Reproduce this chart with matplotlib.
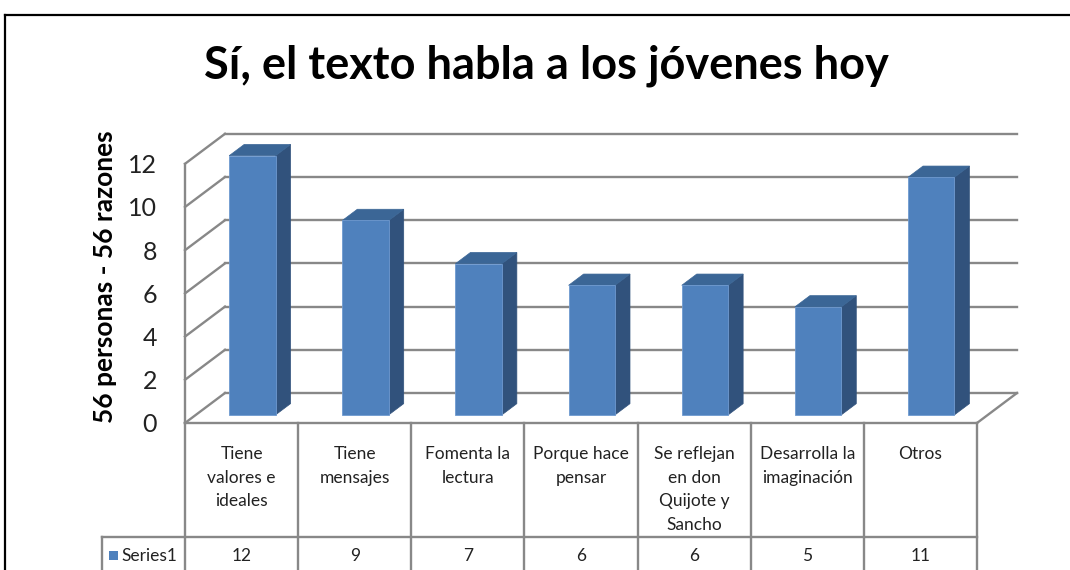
import matplotlib
matplotlib.use("Agg")
import matplotlib.pyplot as plt
from matplotlib.patches import Polygon, Rectangle
from matplotlib.lines import Line2D

# data
categories = ["Tiene\nvalores e\nideales", "Tiene\nmensajes", "Fomenta la\nlectura",
              "Porque hace\npensar", "Se reflejan\nen don\nQuijote y\nSancho",
              "Desarrolla la\nimaginación", "Otros"]
values = [12, 9, 7, 6, 6, 5, 11]
table_values = ["12", "9", "7", "6", "6", "5", "11"]
yticks = [0, 2, 4, 6, 8, 10, 12]
series_name = "Series1"
title = "Sí, el texto habla a los jóvenes hoy"
ylabel = "56 personas - 56 razones"

plt.rcParams['font.family'] = ['Lato', 'DejaVu Sans']

front = "#4F81BD"
side = "#31527C"
top = "#3B6696"
grid = "#888888"

W, H = 1070, 570
fig = plt.figure(figsize=(W / 100, H / 100), dpi=100)

# front plane: x 185..977 px (7 columns), y=0 at 423 px, 21.6 px per unit
colw = (977 - 185) / 7
unit = 21.6
xmax, ymax = 7.6, 14.0
ax = fig.add_axes([185 / W, (H - 423) / H, xmax * colw / W, ymax * unit / H])
ax.set_xlim(0, xmax)
ax.set_ylim(0, ymax)
for s in ax.spines.values():
    s.set_visible(False)
ax.set_xticks([])
ax.set_yticks(yticks)
ax.set_yticklabels([str(t) for t in yticks], fontsize=18, color="#222222")
ax.tick_params(axis="y", length=0, pad=20)

# depth offsets (data units)
DX = 40 / colw
DY = 30 / unit
n = len(values)
gw = 1.7

# back wall gridlines + left wall diagonals
for t in yticks:
    ax.plot([DX, n + DX], [t + DY, t + DY], color=grid, lw=gw, zorder=1, clip_on=False)
    ax.plot([0, DX], [t, t + DY], color=grid, lw=gw, zorder=1, clip_on=False)
# left front edge and floor
ax.plot([0, 0], [0, yticks[-1]], color=grid, lw=gw, zorder=1, clip_on=False)
ax.plot([0, n], [0, 0], color=grid, lw=gw, zorder=1, clip_on=False)
ax.plot([n, n + DX], [0, DY], color=grid, lw=gw, zorder=1, clip_on=False)

# 3D bars
f0, f1 = 0.27, 0.645
bw = 0.41
for i, v in enumerate(values):
    x0 = i + 0.5 - bw / 2 + f0 * DX
    x1 = x0 + bw
    y0 = f0 * DY
    ddx = (f1 - f0) * DX
    ddy = (f1 - f0) * DY
    ax.add_patch(Polygon([(x1, y0), (x1 + ddx, y0 + ddy), (x1 + ddx, y0 + v + ddy), (x1, y0 + v)],
                         closed=True, facecolor=side, edgecolor=side, lw=0.5, zorder=3))
    ax.add_patch(Polygon([(x0, y0 + v), (x1, y0 + v), (x1 + ddx, y0 + v + ddy), (x0 + ddx, y0 + v + ddy)],
                         closed=True, facecolor=top, edgecolor=top, lw=0.5, zorder=3))
    ax.add_patch(Rectangle((x0, y0), bw, v, facecolor=front, edgecolor="#6F9AD0", lw=0.6, zorder=4))

# data table below the floor
row1 = -(537 - 423) / unit
row2 = -(600 - 423) / unit
left_cell = (102 - 185) / colw
tl = dict(color=grid, lw=gw, clip_on=False, zorder=1)
ax.plot([left_cell, n], [row1, row1], **tl)
for k in range(n + 1):
    ax.plot([k, k], [0, row2], **tl)
ax.plot([left_cell, left_cell], [row1, row2], **tl)
for i, lab in enumerate(categories):
    ax.text(i + 0.5, -(446 - 423) / unit, lab, ha="center", va="top", fontsize=12.5,
            linespacing=1.58, color="#222222", clip_on=False)
    ax.text(i + 0.5, -(556 - 423) / unit, table_values[i], ha="center", va="center",
            fontsize=12.5, color="#222222", clip_on=False)
ax.add_patch(Rectangle(((109 - 185) / colw, -(560 - 423) / unit), 9 / colw, 9 / unit,
                       facecolor=front, edgecolor="none", clip_on=False))
ax.text((121 - 185) / colw, -(556 - 423) / unit, series_name, ha="left", va="center",
        fontsize=12.5, color="#222222", clip_on=False)

ax.set_ylabel(ylabel, fontsize=19, fontweight="bold")
ax.yaxis.set_label_coords(-(185 - 117) / (xmax * colw), (423 - 277) / (ymax * unit))

fig.text(546 / W, 1 - 66 / H, title, ha="center", va="center", fontsize=32.5, fontweight="bold")

# outer frame
fig.add_artist(Line2D([5 / W, 1], [1 - 15 / H, 1 - 15 / H], color="black", lw=1.6))
fig.add_artist(Line2D([5 / W, 5 / W], [0, 1 - 15 / H], color="black", lw=1.6))

fig.savefig("out.png", dpi=100)
